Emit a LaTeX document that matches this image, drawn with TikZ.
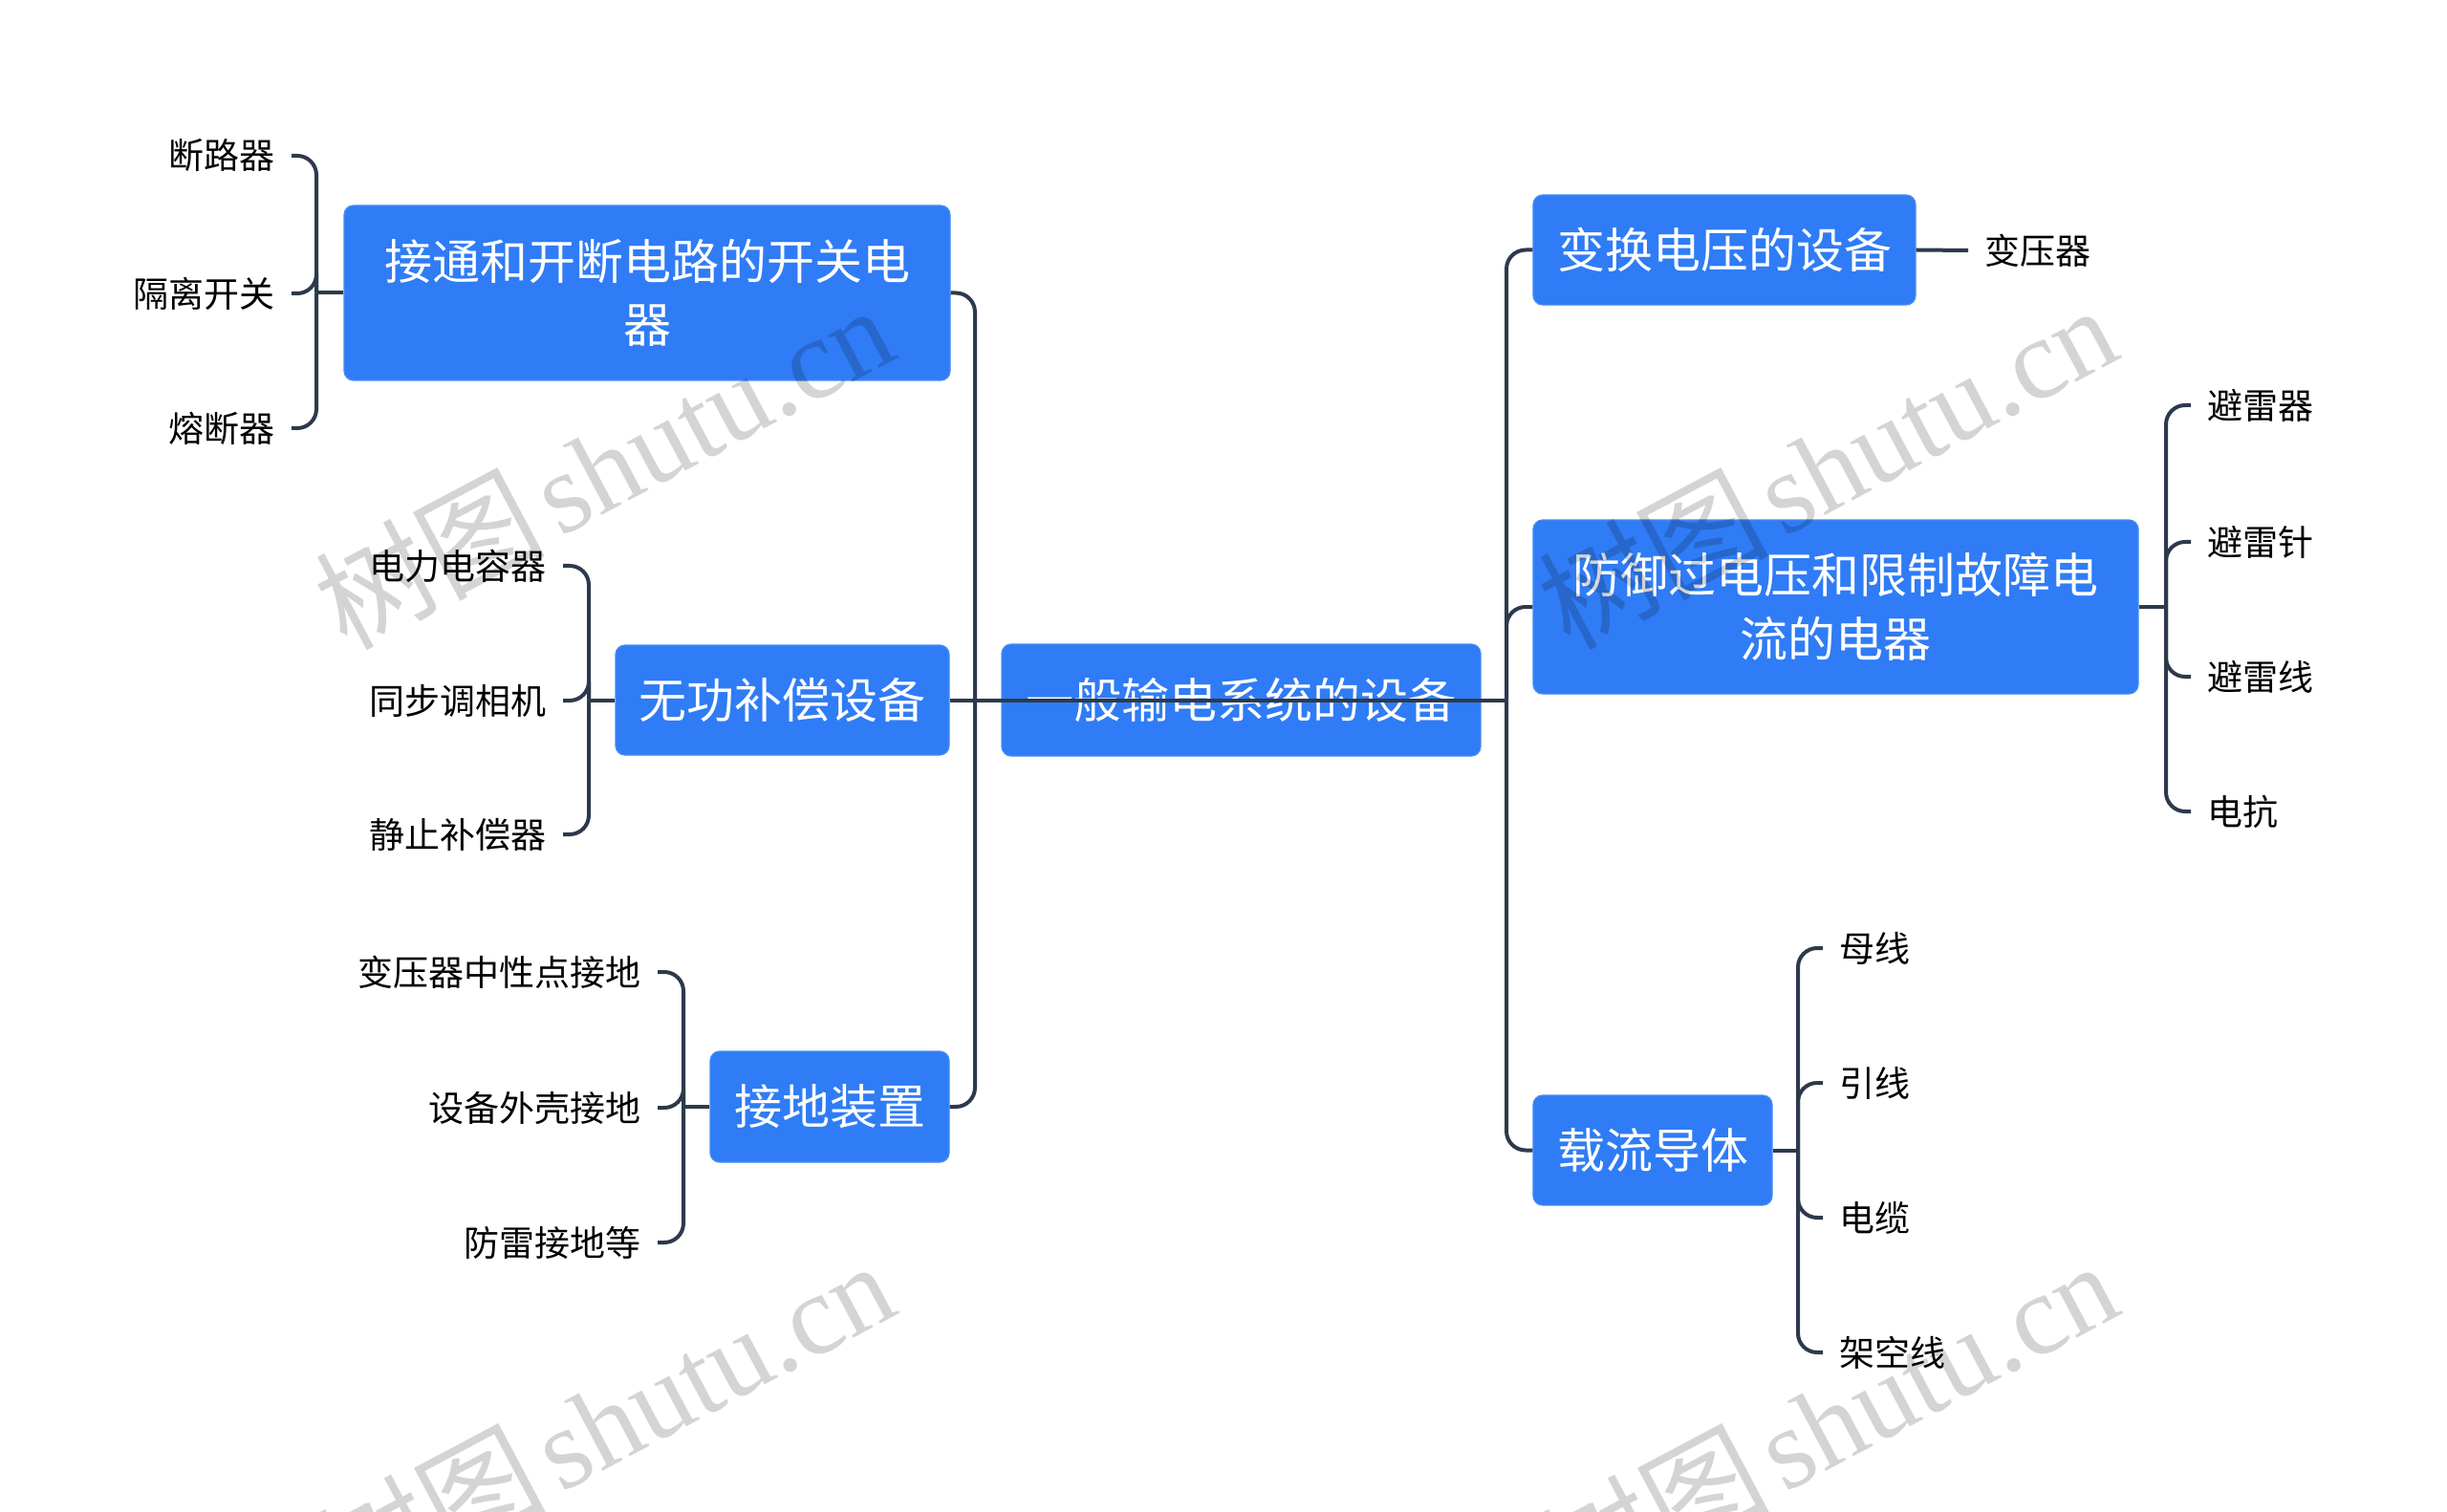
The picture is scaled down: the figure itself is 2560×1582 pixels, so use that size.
\documentclass[tikz,border=0pt]{standalone}
\usepackage{fontspec}
\setmainfont{Noto Sans CJK SC}
\newfontfamily\wmlat{Liberation Serif}
\newfontfamily\cjk{Noto Sans CJK SC}
\definecolor{boxblue}{RGB}{47,124,246}
\definecolor{boxedge}{RGB}{70,140,240}
\definecolor{linec}{RGB}{45,58,76}
\begin{document}
\begin{tikzpicture}[x=0.3pt,y=-0.3pt,
  box/.style={rectangle, rounded corners=3pt, fill=boxblue, draw=boxedge, line width=0.4pt,
    text=white, font=\fontsize{15}{20}\selectfont, align=center, inner sep=0pt},
  leafL/.style={anchor=east, font=\fontsize{11.1}{13}\selectfont, inner xsep=5pt, inner ysep=0pt, text=black},
  leafR/.style={anchor=west, font=\fontsize{11.1}{13}\selectfont, inner xsep=5pt, inner ysep=0pt, text=black},
  conn/.style={draw=linec, line width=1.2pt},
  rc/.style={rounded corners=6pt},
  wm/.style={rotate=28, anchor=base east, inner sep=0pt, text=black, text opacity=0.17,
    font=\fontsize{36}{40}\selectfont}
]
\useasboundingbox[fill=white] (0,0) rectangle (2560,1582);

% main boxes
\node[box, minimum width=150.3pt, minimum height=35.1pt] (R) at (1298.5,732.5) {一般输电系统的设备};
\node[box, minimum width=190.2pt, minimum height=54.9pt] (A) at (677,306.5) {接通和开断电路的开关电\\器};
\node[box, minimum width=104.7pt, minimum height=34.5pt] (B) at (818.5,732.5) {无功补偿设备};
\node[box, minimum width=75pt, minimum height=34.8pt] (C) at (868,1158) {接地装置};
\node[box, minimum width=120pt, minimum height=34.5pt] (D) at (1804,261.5) {变换电压的设备};
\node[box, minimum width=189.9pt, minimum height=54.6pt] (E) at (1920.5,635) {防御过电压和限制故障电\\流的电器};
\node[box, minimum width=75pt, minimum height=34.5pt] (F) at (1729,1203.5) {载流导体};

% left leaves
\node[leafL] (a1) at (305,163) {断路器};
\node[leafL] (a2) at (305,307) {隔离开关};
\node[leafL] (a3) at (305,448) {熔断器};
\node[leafL] (b1) at (589,592) {电力电容器};
\node[leafL] (b2) at (589,733) {同步调相机};
\node[leafL] (b3) at (589,873) {静止补偿器};
\node[leafL] (c1) at (688,1017) {变压器中性点接地};
\node[leafL] (c2) at (688,1159) {设备外壳接地};
\node[leafL] (c3) at (688,1300) {防雷接地等};
% right leaves
\node[leafR] (d1) at (2059,262) {变压器};
\node[leafR] (e1) at (2292,424) {避雷器};
\node[leafR] (e2) at (2292,567) {避雷针};
\node[leafR] (e3) at (2292,708) {避雷线};
\node[leafR] (e4) at (2292,849) {电抗};
\node[leafR] (f1) at (1907,992) {母线};
\node[leafR] (f2) at (1907,1133) {引线};
\node[leafR] (f3) at (1907,1274) {电缆};
\node[leafR] (f4) at (1907,1415) {架空线};

% junction coordinates
\coordinate (lj) at (1020,732.5);
\coordinate (rj) at (1576,732.5);
\coordinate (aj) at (331,306.5);
\coordinate (bj) at (616,732.5);
\coordinate (cj) at (715,1158);
\coordinate (ej) at (2266,635);
\coordinate (fj) at (1881,1203.5);

% trunk connectors
\draw[conn,rc] (A.east) -| (lj);
\draw[conn,rc] (C.east) -| (lj);
\draw[conn] (B.east) -- (rj);
\draw[conn,rc] (rj) |- (D.west);
\draw[conn,rc] (rj) |- (E.west);
\draw[conn,rc] (rj) |- (F.west);

% leaf connectors
\draw[conn] (A.west) -- (aj);
\foreach \n in {a1,a2,a3} \draw[conn,rc] (aj) |- (\n.east);
\draw[conn] (B.west) -- (bj);
\foreach \n in {b1,b2,b3} \draw[conn,rc] (bj) |- (\n.east);
\draw[conn] (C.west) -- (cj);
\foreach \n in {c1,c2,c3} \draw[conn,rc] (cj) |- (\n.east);
\draw[conn] (D.east) -- (d1.west);
\draw[conn] (E.east) -- (ej);
\foreach \n in {e1,e2,e3,e4} \draw[conn,rc] (ej) |- (\n.west);
\draw[conn] (F.east) -- (fj);
\foreach \n in {f1,f2,f3,f4} \draw[conn,rc] (fj) |- (\n.west);

% watermarks
\newcommand\wmtext{树图\kern4pt{\wmlat shutu.cn}}
\node[wm] (w1) at (943,373) {\wmtext};
\node[wm] (w2) at (2223,373) {\wmtext};
\node[wm] (w3) at (944,1373) {\wmtext};
\node[wm] (w4) at (2224,1373) {\wmtext};
\end{tikzpicture}
\end{document}
